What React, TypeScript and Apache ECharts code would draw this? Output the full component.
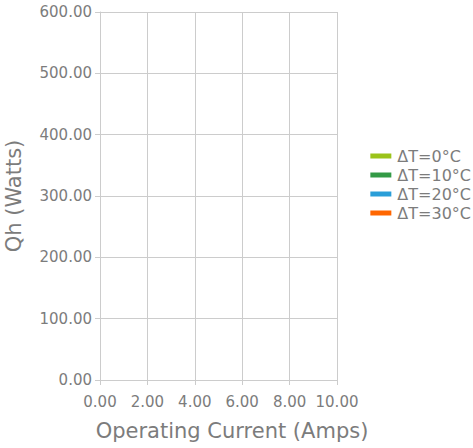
import React, { useEffect, useRef } from "react";
import * as echarts from "echarts";

const seriesNames = ["ΔT=0°C", "ΔT=10°C", "ΔT=20°C", "ΔT=30°C"];
const seriesColors = ["#9bc31a", "#339a46", "#2a9ed8", "#ff6600"];
// The reference shows no plotted points for any series.
const seriesData: number[][][] = [[], [], [], []];

const xMin = 0;
const xMax = 10;
const xInterval = 2;
const yMin = 0;
const yMax = 600;
const yInterval = 100;

export default function App() {
  const ref = useRef<HTMLDivElement>(null);
  useEffect(() => {
    if (!ref.current) return;
    const chart = echarts.init(ref.current, undefined, { renderer: "svg" });
    const font = "DejaVu Sans";
    const textColor = "#7c7c7c";
    chart.setOption({
      animation: false,
      grid: { left: 100, right: 136, top: 12, bottom: 68, outerBoundsMode: "none", containLabel: false },
      legend: {
        orient: "vertical",
        right: 2,
        top: 148,
        padding: 0,
        data: seriesNames,
        icon: "rect",
        itemWidth: 21,
        itemHeight: 5,
        itemGap: 3,
        textStyle: { color: textColor, fontSize: 16, fontFamily: font, padding: [0, 0, 0, 1] },
      },
      xAxis: {
        type: "value",
        min: xMin,
        max: xMax,
        interval: xInterval,
        name: "Operating Current (Amps)",
        nameLocation: "middle",
        nameGap: 40,
        nameTextStyle: { color: textColor, fontSize: 21, fontFamily: font, padding: [0, 0, 0, 27] },
        axisLine: { show: true, lineStyle: { color: "#ccc" } },
        axisTick: { show: true, length: 5, lineStyle: { color: "#ccc" } },
        splitLine: { show: true, lineStyle: { color: "#ccc" } },
        axisLabel: { color: textColor, fontSize: 15, fontFamily: font, margin: 14, formatter: (v: number) => v.toFixed(2) },
      },
      yAxis: {
        type: "value",
        min: yMin,
        max: yMax,
        interval: yInterval,
        name: "Qh (Watts)",
        nameLocation: "middle",
        nameGap: 76,
        nameTextStyle: { color: textColor, fontSize: 21, fontFamily: font },
        axisLine: { show: true, lineStyle: { color: "#ccc" } },
        axisTick: { show: true, length: 5, lineStyle: { color: "#ccc" } },
        splitLine: { show: true, lineStyle: { color: "#ccc" } },
        axisLabel: { color: textColor, fontSize: 15, fontFamily: font, margin: 8, formatter: (v: number) => v.toFixed(2) },
      },
      series: seriesNames.map((name, i) => ({
        name,
        type: "line",
        data: seriesData[i],
        showSymbol: false,
        itemStyle: { color: seriesColors[i] },
        lineStyle: { color: seriesColors[i], width: 2 },
      })),
    });
    return () => chart.dispose();
  }, []);
  return <div ref={ref} style={{ width: 473, height: 448, position: "absolute", left: 0, top: 0 }} />;
}
